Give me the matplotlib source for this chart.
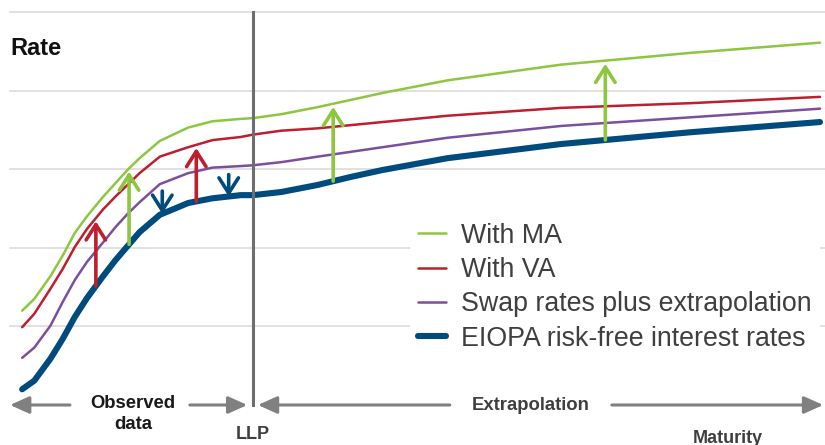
import matplotlib
matplotlib.use("Agg")
import matplotlib.pyplot as plt
import numpy as np

plt.rcParams['font.family'] = ['Liberation Sans', 'DejaVu Sans']

# maturity (arbitrary units, LLP at 30) and rate levels
maturity = [1.5, 3, 5, 6.5, 8, 9.5, 11.5, 13, 14.5, 16, 18.5, 22, 25, 28.5, 30,
            33.5, 38, 42, 46, 54, 68, 84, 100]
eiopa_rfr = [0.20, 0.31, 0.59, 0.84, 1.12, 1.36, 1.64, 1.84, 2.02, 2.20, 2.42, 2.57,
             2.63, 2.67, 2.67, 2.71, 2.80, 2.90, 2.99, 3.14, 3.32, 3.47, 3.60]
swap_extrap = [0.60, 0.73, 1.01, 1.31, 1.59, 1.82, 2.07, 2.26, 2.43, 2.58, 2.81, 2.95,
               3.02, 3.04, 3.05, 3.09, 3.16, 3.22, 3.28, 3.40, 3.55, 3.66, 3.77]
with_va = [0.99, 1.16, 1.48, 1.73, 2.01, 2.24, 2.49, 2.65, 2.80, 2.95, 3.16, 3.28,
           3.37, 3.41, 3.44, 3.49, 3.52, 3.56, 3.60, 3.68, 3.78, 3.84, 3.92]
with_ma = [1.20, 1.35, 1.64, 1.90, 2.19, 2.40, 2.65, 2.82, 2.99, 3.14, 3.36, 3.53,
           3.61, 3.64, 3.65, 3.70, 3.79, 3.88, 3.97, 4.13, 4.33, 4.48, 4.61]

llp = 30
grid_levels = [1, 2, 3, 4, 5]

# arrows: maturity and target curve
up_arrows = [(10.6, 'va'), (14.7, 'ma'), (23.0, 'va'), (39.9, 'ma'), (73.5, 'ma')]
down_arrows = [18.8, 27.0]

c_ma = '#8DC63F'
c_va = '#BE1E2D'
c_swap = '#7B4FA0'
c_rfr = '#004B7D'
c_gray = '#808080'
c_text = '#3F3F3F'

fig = plt.figure(figsize=(8.25, 4.45), dpi=100)
ax = fig.add_axes([0, 0, 1, 1])
ax.set_xlim(-10 / 8.1, 815 / 8.1)
ax.set_ylim(-40 / 78.6, 405 / 78.6)
ax.axis('off')

for g in grid_levels:
    ax.plot([0, 100.6], [g, g], color='#D9D9D9', lw=1.1, zorder=0)

ax.plot(maturity, with_ma, color=c_ma, lw=1.8, label='With MA', solid_capstyle='round',
        solid_joinstyle='round', zorder=2)
ax.plot(maturity, with_va, color=c_va, lw=1.8, label='With VA', solid_capstyle='round',
        solid_joinstyle='round', zorder=2)
ax.plot(maturity, swap_extrap, color=c_swap, lw=1.8, label='Swap rates plus extrapolation',
        solid_capstyle='round', solid_joinstyle='round', zorder=2)
ax.plot(maturity, eiopa_rfr, color=c_rfr, lw=4.4, label='EIOPA risk-free interest rates',
        solid_capstyle='round', solid_joinstyle='round', zorder=3)

curves = {'ma': (with_ma, c_ma), 'va': (with_va, c_va)}
astyle = '->,head_length=0.55,head_width=0.35'
for t, key in up_arrows:
    vals, col = curves[key]
    y0 = np.interp(t, maturity, eiopa_rfr)
    y1 = np.interp(t, maturity, vals) - 0.04
    ax.annotate('', xy=(t, y1), xytext=(t, y0),
                arrowprops=dict(arrowstyle=astyle, mutation_scale=20, color=col, lw=2.6,
                                shrinkA=0, shrinkB=0, capstyle='round'), zorder=4)
for t in down_arrows:
    y0 = np.interp(t, maturity, swap_extrap) - 0.1
    y1 = np.interp(t, maturity, eiopa_rfr)
    ax.annotate('', xy=(t, y1), xytext=(t, y0),
                arrowprops=dict(arrowstyle=astyle, mutation_scale=20, color=c_rfr, lw=2.6,
                                shrinkA=0, shrinkB=0, capstyle='round'), zorder=4)

# LLP line
ax.plot([llp, llp], [0, 5], color='#6D6E71', lw=2.2, zorder=5)

# bottom arrows
seg = [(7.4, 0.0), (22.2, 29.3), (54.3, 30.6), (74.3, 100.4)]
for a, b in seg:
    ax.annotate('', xy=(b, 0), xytext=(a, 0),
                arrowprops=dict(arrowstyle='-|>,head_length=0.58,head_width=0.26',
                                mutation_scale=20, color=c_gray, lw=2.2,
                                shrinkA=0, shrinkB=0))

ax.text(0, 4.53, 'Rate', fontsize=17, fontweight='bold', ha='left', va='center', color='#111111')
ax.text(15.2, 0.025, 'Observed', fontsize=13.3, fontweight='bold', ha='center', va='center', color='#1a1a1a')
ax.text(15.2, -0.254, 'data', fontsize=13.3, fontweight='bold', ha='center', va='center', color='#1a1a1a')
ax.text(llp, -0.38, 'LLP', fontsize=13, fontweight='bold', ha='center', va='center', color=c_text)
ax.text(64.3, -0.01, 'Extrapolation', fontsize=13.3, fontweight='bold', ha='center', va='center', color=c_text)
ax.text(88.6, -0.42, 'Maturity', fontsize=13, fontweight='bold', ha='center', va='center', color=c_text)

leg = ax.legend(loc='upper left', bbox_to_anchor=(0.481, 0.548), fontsize=19.3,
                frameon=True, facecolor='white', edgecolor='none', framealpha=1,
                handlelength=1.05, handletextpad=0.56, labelspacing=0.31, borderpad=0.3)
for txt in leg.get_texts():
    txt.set_color(c_text)
leg.set_zorder(6)

plt.savefig('out.png', dpi=100)
